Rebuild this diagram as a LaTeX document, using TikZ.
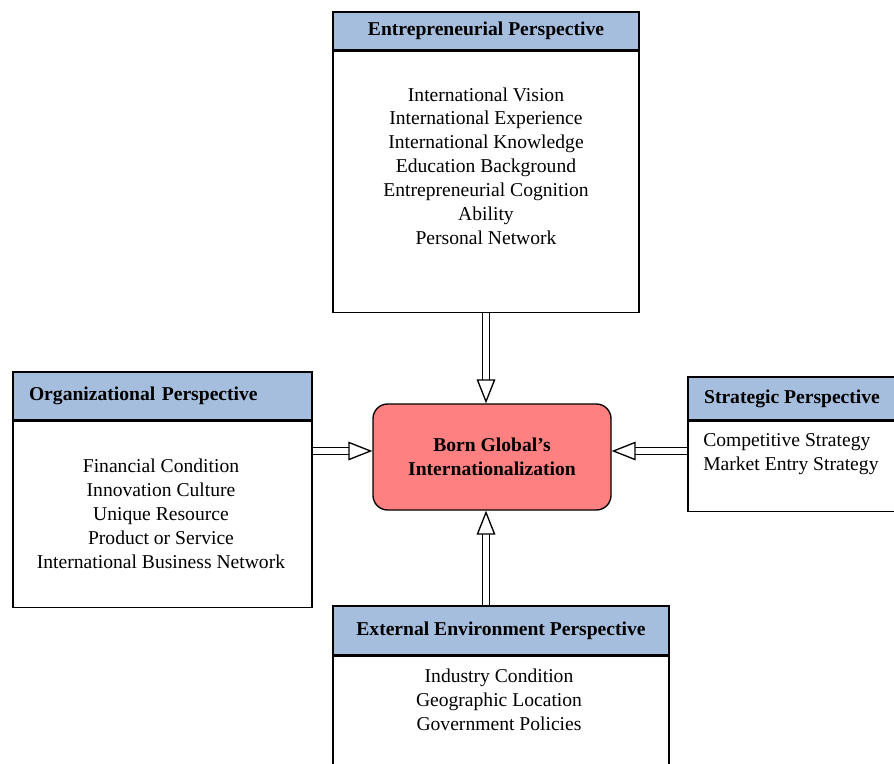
\documentclass[tikz,border=0pt]{standalone}
\usepackage{fontspec}
\setmainfont{Liberation Serif}
\usepackage{tikz}
\usetikzlibrary{arrows.meta,positioning}
\definecolor{headblue}{RGB}{166,190,221}
\definecolor{bornred}{RGB}{255,128,128}
\tikzset{font=\fontsize{14.7pt}{17.9pt}\selectfont}
\tikzset{hd/.style={draw, line width=1pt, fill=headblue, font=\fontsize{14.7pt}{17.9pt}\selectfont\bfseries,
    inner sep=0pt}}
\tikzset{bodybox/.style={draw, line width=1pt, fill=white, inner sep=0pt}}
\tikzset{items/.style={align=center, inner sep=0pt}}
\tikzset{bigarrow/.style={double, double distance=4.5pt, line width=1pt,
    -{Triangle[open, length=18pt, width=14pt]}}}

\begin{document}
\begin{tikzpicture}[x=0.75pt,y=-0.75pt]
  \useasboundingbox (0,0) rectangle (894,764);

  % entrepreneurial (top)
  \node[hd, minimum width=229.5pt, minimum height=28.5pt] (ent-head) at (486,31)
    {Entrepreneurial Perspective};
  \node[bodybox, minimum width=229.5pt, minimum height=195.75pt, below=0pt of ent-head] (ent-body) {};
  \node[items] (ent-text) at (486,166) {International Vision\\International Experience\\
    International Knowledge\\Education Background\\Entrepreneurial Cognition\\Ability\\
    Personal Network};

  % organizational (left)
  \node[hd, minimum height=36pt, text width=200.25pt, inner xsep=12pt, align=left] (org-head)
    at (162.5,396) {Organizational Perspective};
  \node[bodybox, minimum width=224.25pt, minimum height=139.5pt, below=0pt of org-head] (org-body) {};
  \node[items] (org-text) at (161,514) {Financial Condition\\Innovation Culture\\
    Unique Resource\\Product or Service\\International Business Network};

  % strategic (right)
  \node[hd, minimum width=156pt, minimum height=32.25pt] (strat-head) at (792,398.5)
    {Strategic Perspective};
  \node[bodybox, minimum width=156pt, minimum height=67.5pt, below=0pt of strat-head] (strat-body) {};
  \node[items, align=left, anchor=west] (strat-text) at (703,454)
    {Competitive Strategy\\Market Entry Strategy};

  % external environment (bottom)
  \node[hd, minimum width=252pt, minimum height=36.75pt] (ext-head) at (501,630.5)
    {External Environment Perspective};
  \node[bodybox, minimum width=252pt, minimum height=112pt, below=0pt of ext-head] (ext-body) {};
  \node[items] (ext-text) at (499,700) {Industry Condition\\Geographic Location\\
    Government Policies};

  % centre
  \node[draw, line width=1pt, fill=bornred, rounded corners=11pt, minimum width=178.5pt,
    minimum height=79.5pt, align=center, font=\fontsize{14.7pt}{17.9pt}\selectfont\bfseries]
    (born) at (492,457) {Born Global's\\Internationalization};

  \coordinate (mid) at (492,451);

  \draw[bigarrow] (ent-body.south) -- (ent-body.south |- born.north);
  \draw[bigarrow] (org-body.east |- mid) -- (born.west |- mid);
  \draw[bigarrow] (strat-body.west |- mid) -- (born.east |- mid);
  \draw[bigarrow] (ext-head.north -| ent-body.south) -- (born.south -| ent-body.south);

\end{tikzpicture}
\end{document}
